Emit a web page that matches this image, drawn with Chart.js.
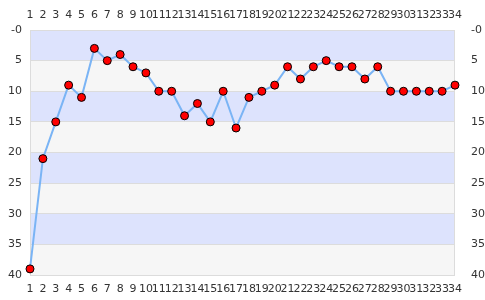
<!DOCTYPE html>
<html>
<head>
<meta charset="utf-8">
<script src="https://cdn.jsdelivr.net/npm/chart.js@4"></script>
<style>
  html, body { margin: 0; padding: 0; background: #fff; }
  #wrap { width: 485px; height: 300px; }
</style>
</head>
<body>
<div id="wrap"><canvas id="chart"></canvas></div>
<script>
const categories = ['1','2','3','4','5','6','7','8','9','10','11','12','13','14','15','16','17',
  '18','19','20','21','22','23','24','25','26','27','28','29','30','31','32','33','34'];
const ranks = [39, 21, 15, 9, 11, 3, 5, 4, 6, 7, 10, 10, 14, 12, 15, 10, 16,
  11, 10, 9, 6, 8, 6, 5, 6, 6, 8, 6, 10, 10, 10, 10, 10, 9];
const yTicks = [0, 5, 10, 15, 20, 25, 30, 35, 40];

const bandPlugin = {
  id: 'bands',
  beforeDraw(chart) {
    const { ctx, chartArea } = chart;
    const y = chart.scales.y;
    ctx.save();
    for (let i = 0; i < yTicks.length - 1; i++) {
      const a = y.getPixelForValue(yTicks[i]);
      const b = y.getPixelForValue(yTicks[i + 1]);
      ctx.fillStyle = i % 2 === 0 ? '#dde3fd' : '#f6f6f6';
      ctx.fillRect(chartArea.left, Math.min(a, b), chartArea.right - chartArea.left, Math.abs(b - a));
    }
    ctx.strokeStyle = '#dcdcdc';
    ctx.lineWidth = 1;
    ctx.strokeRect(chartArea.left + 0.5, chartArea.top + 0.5,
      chartArea.right - chartArea.left - 1, chartArea.bottom - chartArea.top);
    ctx.restore();
  }
};

const tickFont = { family: "'DejaVu Sans', sans-serif", size: 11 };
const yLabel = v => (v === 0 ? '-0' : String(v));

new Chart(document.getElementById('chart'), {
  type: 'line',
  data: {
    labels: categories,
    datasets: [{
      data: ranks,
      borderColor: '#7ab4f5',
      borderWidth: 2,
      pointBackgroundColor: '#ff0000',
      pointBorderColor: '#000000',
      pointBorderWidth: 1,
      pointRadius: 4,
      tension: 0
    }]
  },
  options: {
    responsive: true,
    maintainAspectRatio: false,
    animation: false,
    layout: { padding: 0 },
    plugins: { legend: { display: false }, tooltip: { enabled: false } },
    scales: {
      x: {
        position: 'top',
        offset: false,
        grid: { display: false },
        border: { display: false },
        ticks: { color: '#333', font: tickFont, maxRotation: 0, autoSkip: false, padding: 0 },
        afterFit(s) { s.height = 30; }
      },
      x2: {
        position: 'bottom',
        labels: categories,
        offset: false,
        grid: { display: false },
        border: { display: false },
        ticks: { color: '#333', font: tickFont, maxRotation: 0, autoSkip: false, padding: 0 },
        afterFit(s) { s.height = 25; }
      },
      y: {
        position: 'left',
        reverse: true,
        min: 0, max: 40,
        afterBuildTicks(s) { s.ticks = yTicks.map(v => ({ value: v })); },
        grid: { color: '#dcdcdc', drawTicks: false },
        border: { display: false },
        ticks: { color: '#333', font: tickFont, padding: 8, callback: yLabel },
        afterFit(s) { s.width = 30; }
      },
      y2: {
        position: 'right',
        reverse: true,
        min: 0, max: 40,
        afterBuildTicks(s) { s.ticks = yTicks.map(v => ({ value: v })); },
        grid: { display: false },
        border: { display: false },
        ticks: { color: '#333', font: tickFont, padding: 8, callback: yLabel },
        afterFit(s) { s.width = 30; }
      }
    }
  },
  plugins: [bandPlugin]
});
</script>
</body>
</html>
